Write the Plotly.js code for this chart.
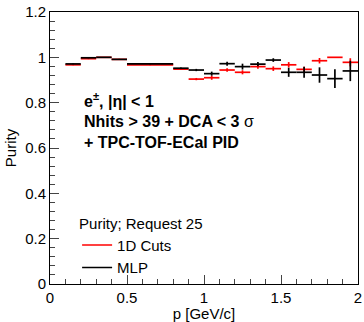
<!DOCTYPE html>
<html>
<head>
<meta charset="utf-8">
<script src="https://cdn.plot.ly/plotly-3.0.1.min.js"></script>
<style>html,body{margin:0;padding:0;background:#fff;}#chart{width:364px;height:322px;}</style>
</head>
<body>
<div id="chart"></div>
<script>
// Bin edges in p [GeV/c]
const binLow  = [0.1, 0.2, 0.3, 0.4, 0.5, 0.8, 0.9, 1.0, 1.1, 1.2, 1.3, 1.4, 1.5, 1.6, 1.7, 1.8, 1.9];
const binHigh = [0.2, 0.3, 0.4, 0.5, 0.8, 0.9, 1.0, 1.1, 1.2, 1.3, 1.4, 1.5, 1.6, 1.7, 1.8, 1.9, 2.0];

// Purity, 1D Cuts (red)
const cutsPurity = [0.967, 0.994, 1.000, 0.991, 0.967, 0.948, 0.904, 0.910, 0.944, 0.934, 0.959, 0.950, 0.967, 0.947, 0.985, 1.000, 0.978];
const cutsErr    = [0.002, 0.002, 0.000, 0.002, 0.002, 0.003, 0.005, 0.009, 0.008, 0.009, 0.009, 0.010, 0.012, 0.012, 0.012, 0.000, 0.018];

// Purity, MLP (black)
const mlpPurity = [0.971, 0.998, 1.000, 0.991, 0.971, 0.952, 0.944, 0.928, 0.972, 0.959, 0.970, 0.988, 0.934, 0.934, 0.922, 0.906, 0.940];
const mlpErr    = [0.002, 0.002, 0.002, 0.002, 0.002, 0.003, 0.005, 0.009, 0.009, 0.013, 0.009, 0.008, 0.020, 0.024, 0.034, 0.041, 0.045];

const seriesNames = ['1D Cuts', 'MLP'];
const legendTitle = 'Purity; Request 25';

const centers = binLow.map((lo, i) => (lo + binHigh[i]) / 2);
const halfW   = binLow.map((lo, i) => (binHigh[i] - lo) / 2);

function histTrace(vals, errs, color) {
  return {
    type: 'scatter', mode: 'markers', x: centers, y: vals, showlegend: false,
    marker: {size: 0, color: 'rgba(0,0,0,0)', line: {width: 0}},
    error_x: {type: 'data', array: halfW, symmetric: true, width: 0, thickness: 1.7, color: color},
    error_y: {type: 'data', array: errs, symmetric: true, width: 0, thickness: 1.7, color: color},
    hoverinfo: 'skip'
  };
}

const data = [
  histTrace(cutsPurity, cutsErr, '#ff0000'),
  histTrace(mlpPurity, mlpErr, '#000000'),
  {type: 'scatter', mode: 'lines', x: [null], y: [null], name: seriesNames[0], line: {color: '#ff0000', width: 1.6}},
  {type: 'scatter', mode: 'lines', x: [null], y: [null], name: seriesNames[1], line: {color: '#000000', width: 1.6}}
];

const font = 'Liberation Sans, Arial, Helvetica, sans-serif';

const layout = {
  width: 364, height: 322,
  margin: {l: 50, r: 6, t: 12, b: 38},
  paper_bgcolor: '#fff', plot_bgcolor: '#fff',
  font: {family: font, size: 15, color: '#000'},
  showlegend: true,
  legend: {
    x: 0.088, y: 0.275, xanchor: 'left', yanchor: 'top',
    bgcolor: 'rgba(0,0,0,0)', font: {family: font, size: 15},
    title: {text: legendTitle, font: {family: font, size: 15}},
    itemwidth: 30, tracegroupgap: 0
  },
  xaxis: {
    range: [0, 2], dtick: 0.5, tick0: 0, ticks: 'inside', ticklen: 9, tickwidth: 1,
    minor: {dtick: 0.1, ticks: 'inside', ticklen: 5, tickwidth: 1, showgrid: false},
    showgrid: false, zeroline: false, showline: true, linecolor: '#000', linewidth: 1, mirror: true,
    tickfont: {family: font, size: 15},
    title: {text: 'p [GeV/c]', font: {family: font, size: 15}, standoff: 2},
    automargin: false
  },
  yaxis: {
    range: [0, 1.2], dtick: 0.2, tick0: 0, ticks: 'inside', ticklen: 9, tickwidth: 1,
    minor: {dtick: 0.04, ticks: 'inside', ticklen: 5, tickwidth: 1, showgrid: false},
    showgrid: false, zeroline: false, showline: true, linecolor: '#000', linewidth: 1, mirror: true,
    tickfont: {family: font, size: 15},
    title: {text: 'Purity', font: {family: font, size: 15}, standoff: 4},
    automargin: false
  },
  annotations: [
    {xref: 'paper', yref: 'paper', x: 0.105, y: 0.675, xanchor: 'left', yanchor: 'middle', showarrow: false,
     text: '<b>e<sup>±</sup>, |η| &lt; 1</b>', font: {family: font, size: 16}},
    {xref: 'paper', yref: 'paper', x: 0.105, y: 0.597, xanchor: 'left', yanchor: 'middle', showarrow: false,
     text: '<b>Nhits &gt; 39 + DCA &lt; 3</b> σ', font: {family: font, size: 16}},
    {xref: 'paper', yref: 'paper', x: 0.105, y: 0.52, xanchor: 'left', yanchor: 'middle', showarrow: false,
     text: '<b>+ TPC-TOF-ECal PID</b>', font: {family: font, size: 16}}
  ]
};

Plotly.newPlot('chart', data, layout, {displayModeBar: false, staticPlot: true});
</script>
</body>
</html>
